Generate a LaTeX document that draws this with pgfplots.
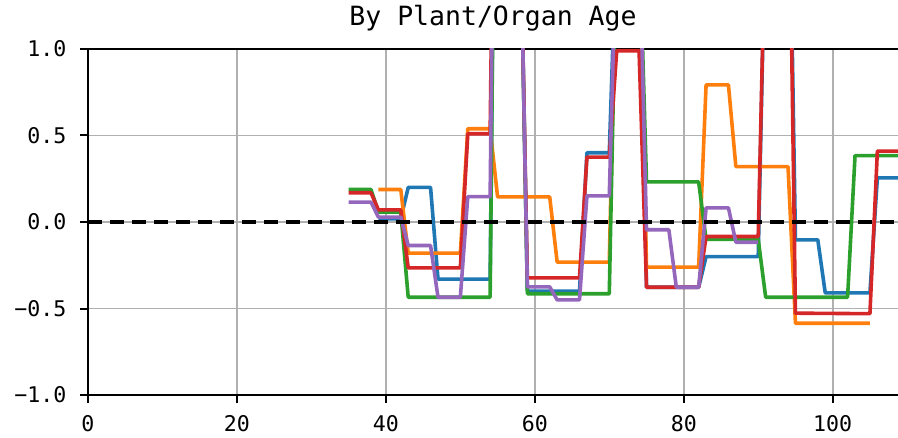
\documentclass[border=0pt]{standalone}
\usepackage{fontspec}
\setmainfont{DejaVu Sans Mono}
\usepackage{pgfplots}
\pgfplotsset{compat=1.18}

\definecolor{tabblue}{HTML}{1F77B4}
\definecolor{taborange}{HTML}{FF7F0E}
\definecolor{tabgreen}{HTML}{2CA02C}
\definecolor{tabred}{HTML}{D62728}
\definecolor{tabpurple}{HTML}{9467BD}
\definecolor{gridgray}{HTML}{B0B0B0}

\begin{document}
\begin{tikzpicture}
\begin{axis}[
  at={(88pt,42pt)}, anchor=south west,
  scale only axis, width=810pt, height=346pt,
  xmin=0, xmax=108.77, ymin=-1, ymax=1,
  axis x line*=box, axis y line*=left,
  xtick={0,20,40,60,80,100}, xticklabels={0,20,40,60,80,100},
  ytick={-1,-0.5,0,0.5,1}, yticklabels={−1.0,−0.5,0.0,0.5,1.0},
  tick align=outside, xtick pos=bottom, ytick pos=left,
  major tick length=8pt,
  every tick/.style={black, line width=2pt},
  axis line style={line width=2pt},
  grid=major, major grid style={color=gridgray, line width=1.7pt},
  ticklabel style={font=\fontsize{21.6}{24}\selectfont},
  xticklabel style={yshift=-9pt},
  yticklabel style={xshift=-10pt},
  title={By Plant/Organ Age},
  title style={font=\fontsize{26.5}{30}\selectfont, at={(0.5,1)}, anchor=base, yshift=17pt},
  every axis plot/.append style={line width=3.6pt, line join=round},
]
% blue
\addplot[tabblue] coordinates {
 (39,0.018) (42,0.018) (43,0.20) (46,0.20) (47,-0.33) (54,-0.33)
 (55,4.0) (56,3.5) (57,2.5) (58,1.9) (59,-0.40) (66,-0.40) (67,0.40) (70,0.40)
 (71,1.7) (72,1.7) (73,1.7) (74,1.7) (75,-0.377) (82,-0.377) (83,-0.20) (90,-0.20)
 (91,1.8) (92,2.0) (93,2.2) (94,2.5) (95,-0.103) (98,-0.103) (99,-0.41) (105,-0.41)
 (106,0.255) (110,0.255)};
% orange
\addplot[taborange] coordinates {
 (39,0.188) (42,0.188) (43,-0.18) (50,-0.18) (51,0.539) (54,0.539) (55,0.145) (62,0.145)
 (63,-0.232) (70,-0.232) (71,1.7) (72,1.7) (73,1.7) (74,1.7) (75,-0.261) (82,-0.261)
 (83,0.793) (86,0.793) (87,0.32) (94,0.32) (95,-0.585) (105,-0.585)};
% green
\addplot[tabgreen] coordinates {
 (35,0.188) (38,0.188) (39,0.057) (42,0.057) (43,-0.435) (54,-0.435)
 (55,4.0) (56,3.5) (57,2.5) (58,1.9) (59,-0.415) (70,-0.415)
 (71,1.7) (72,1.7) (73,1.7) (74,1.7) (75,0.232) (82,0.232) (83,-0.10) (90,-0.10)
 (91,-0.435) (102,-0.435) (103,0.384) (110,0.384)};
% red
\addplot[tabred] coordinates {
 (35,0.169) (38,0.169) (39,0.070) (42,0.070) (43,-0.265) (50,-0.265) (51,0.51) (54,0.51)
 (55,4.0) (56,3.5) (57,2.5) (58,1.9) (59,-0.323) (66,-0.323) (67,0.375) (70,0.375)
 (71,0.99) (74,0.99) (75,-0.377) (82,-0.377) (83,-0.084) (90,-0.084)
 (91,1.8) (92,2.0) (93,2.2) (94,2.5) (95,-0.527) (105,-0.53) (106,0.41) (110,0.41)};
% purple
\addplot[tabpurple] coordinates {
 (35,0.115) (38,0.115) (39,0.028) (42,0.028) (43,-0.136) (46,-0.136) (47,-0.435) (50,-0.435)
 (51,0.147) (54,0.147) (55,4.0) (56,3.5) (57,2.5) (58,1.9) (59,-0.375) (62,-0.375)
 (63,-0.45) (66,-0.45) (67,0.151) (70,0.151) (71,1.7) (72,1.7) (73,1.7) (74,1.7)
 (75,-0.045) (78,-0.045) (79,-0.377) (82,-0.377) (83,0.082) (86,0.082) (87,-0.117) (90,-0.117)};
% zero line
\addplot[black, line width=4pt, dash pattern=on 14pt off 8pt] coordinates {(0,0) (108.77,0)};
\end{axis}
\pgfresetboundingbox
\useasboundingbox (0,0) rectangle (898pt,437pt);
\end{tikzpicture}
\end{document}
